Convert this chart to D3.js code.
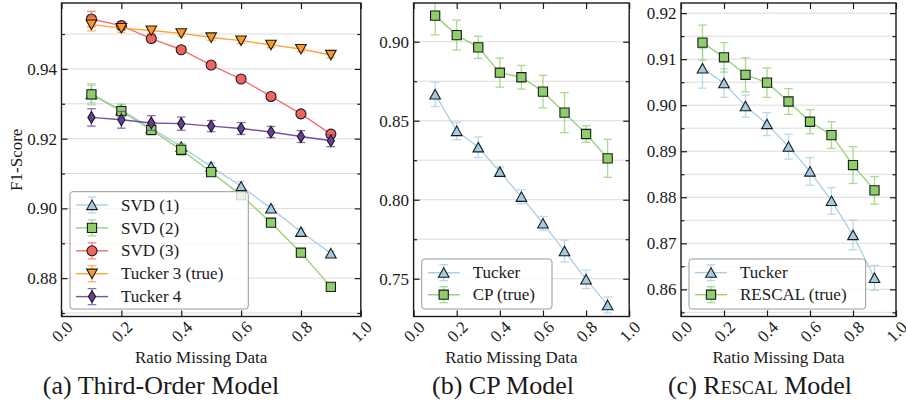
<!DOCTYPE html>
<html><head><meta charset="utf-8">
<script src="https://cdn.jsdelivr.net/npm/d3@7/dist/d3.min.js"></script>
<style>
body{margin:0;background:#fff}
svg{display:block}
svg text{font-family:"Liberation Serif","Times New Roman",serif;fill:#1a1a1a}
</style>
</head><body>
<svg id="chart" width="906" height="405"></svg>
<script>
// ---------------- DATA ----------------
const ratios = [0.1, 0.2, 0.3, 0.4, 0.5, 0.6, 0.7, 0.8, 0.9];
const xTickValues = [0.0, 0.2, 0.4, 0.6, 0.8, 1.0];

// Panel (a) Third-Order Model
const aLabels = ["SVD (1)", "SVD (2)", "SVD (3)", "Tucker 3 (true)", "Tucker 4"];
const aSvd1 = [0.9328, 0.9282, 0.9230, 0.9177, 0.9120, 0.9063, 0.9000, 0.8933, 0.8871];
const aSvd1Err = [0.0025, 0.0018, 0.0012, 0.0010, 0.0010, 0.0014, 0.0008, 0.0008, 0.0006];
const aSvd2 = [0.9327, 0.9279, 0.9225, 0.9168, 0.9104, 0.9038, 0.8959, 0.8873, 0.8775];
const aSvd2Err = [0.0030, 0.0018, 0.0015, 0.0016, 0.0012, 0.0012, 0.0008, 0.0008, 0.0010];
const aSvd3 = [0.9543, 0.9524, 0.9487, 0.9455, 0.9411, 0.9371, 0.9321, 0.9271, 0.9213];
const aSvd3Err = [0.0022, 0.0012, 0.0010, 0.0008, 0.0008, 0.0008, 0.0008, 0.0008, 0.0010];
const aTucker3 = [0.9527, 0.9517, 0.9510, 0.9502, 0.9490, 0.9481, 0.9469, 0.9457, 0.9440];
const aTucker3Err = [0.0018, 0.0012, 0.0008, 0.0008, 0.0008, 0.0008, 0.0008, 0.0008, 0.0008];
const aTucker4 = [0.9261, 0.9254, 0.9245, 0.9243, 0.9236, 0.9229, 0.9219, 0.9206, 0.9194];
const aTucker4Err = [0.0025, 0.0024, 0.0021, 0.0019, 0.0016, 0.0017, 0.0016, 0.0017, 0.0017];
const aYTicks = [0.88, 0.90, 0.92, 0.94];
const aYMinor = [0.87, 0.89, 0.91, 0.93, 0.95];
const aYDomain = [0.8690, 0.9589];

// Panel (b) CP Model
const bLabels = ["Tucker", "CP (true)"];
const bTucker = [0.8667, 0.8435, 0.8332, 0.8177, 0.8019, 0.7850, 0.7675, 0.7496, 0.7333];
const bTuckerErr = [0.0077, 0.0055, 0.0065, 0.0030, 0.0044, 0.0044, 0.0069, 0.0058, 0.0050];
const bCP = [0.9165, 0.9042, 0.8964, 0.8804, 0.8775, 0.8684, 0.8551, 0.8416, 0.8262];
const bCPErr = [0.0122, 0.0095, 0.0070, 0.0092, 0.0075, 0.0103, 0.0127, 0.0052, 0.0120];
const bYTicks = [0.75, 0.80, 0.85, 0.90];
const bYMinor = [0.725, 0.775, 0.825, 0.875, 0.925];
const bYDomain = [0.7261, 0.9245];

// Panel (c) Rescal Model
const cLabels = ["Tucker", "RESCAL (true)"];
const cTucker = [0.9080, 0.9048, 0.8998, 0.8959, 0.8910, 0.8856, 0.8792, 0.8718, 0.8625];
const cTuckerErr = [0.0043, 0.0031, 0.0024, 0.0025, 0.0027, 0.0030, 0.0029, 0.0032, 0.0027];
const cRescal = [0.9136, 0.9104, 0.9066, 0.9049, 0.9008, 0.8964, 0.8935, 0.8870, 0.8815];
const cRescalErr = [0.0038, 0.0032, 0.0037, 0.0032, 0.0028, 0.0026, 0.0029, 0.0040, 0.0030];
const cYTicks = [0.86, 0.87, 0.88, 0.89, 0.90, 0.91, 0.92];
const cYMinor = [0.855, 0.865, 0.875, 0.885, 0.895, 0.905, 0.915];
const cYDomain = [0.8541, 0.9222];

const xLabel = "Ratio Missing Data";
const yLabel = "F1-Score";

// ---------------- STYLE ----------------
const COL = {blue:"#a3cce3", green:"#8fcf6b", red:"#ef6461", orange:"#fd9a24", purple:"#6a3d9a"};
const TOP = 3, BOTTOM = 316.5;
const FS = 17, CAP_FS = 26;

const svg = d3.select("#chart");

function markerPath(type){
  switch(type){
    case "tri": return "M0,-4.9L5.3,4.6L-5.3,4.6Z";
    case "trid": return "M0,4.9L5.3,-4.6L-5.3,-4.6Z";
    case "sq": return "M-4.6,-4.6H4.6V4.6H-4.6Z";
    case "circ": return "M5,0A5,5 0 1,1 -5,0A5,5 0 1,1 5,0Z";
    case "dia": return "M0,-5.8L3.6,0L0,5.8L-3.6,0Z";
  }
}

function drawPanel(p, idx){
  const x = d3.scaleLinear().domain([0,1]).range([p.x0, p.x1]);
  const y = d3.scaleLinear().domain(p.yDomain).range([BOTTOM, TOP]);
  const g = svg.append("g");
  const clipId = "clip"+idx;
  g.append("clipPath").attr("id", clipId).append("rect")
    .attr("x", p.x0).attr("y", TOP).attr("width", p.x1-p.x0).attr("height", BOTTOM-TOP);

  const inDom = v => v >= p.yDomain[0] && v <= p.yDomain[1];

  // grid
  g.append("g").selectAll("line").data(p.yTicks.concat(p.yMinor).filter(inDom))
    .join("line").attr("x1", p.x0).attr("x2", p.x1)
    .attr("y1", d=>y(d)).attr("y2", d=>y(d))
    .attr("stroke", "#dcdcdc").attr("stroke-width", 1);

  // series
  const plot = g.append("g").attr("clip-path", `url(#${clipId})`);
  p.series.forEach(s=>{
    const sg = plot.append("g");
    const pts = ratios.map((r,i)=>({x:r, y:s.values[i], e:s.errors[i]}));
    const eg = sg.append("g").attr("stroke", s.color).attr("stroke-width", 1.3).attr("opacity", 0.75);
    pts.forEach(d=>{
      eg.append("line").attr("x1", x(d.x)).attr("x2", x(d.x)).attr("y1", y(d.y-d.e)).attr("y2", y(d.y+d.e));
      eg.append("line").attr("x1", x(d.x)-4.3).attr("x2", x(d.x)+4.3).attr("y1", y(d.y-d.e)).attr("y2", y(d.y-d.e));
      eg.append("line").attr("x1", x(d.x)-4.3).attr("x2", x(d.x)+4.3).attr("y1", y(d.y+d.e)).attr("y2", y(d.y+d.e));
    });
    sg.append("path").datum(pts)
      .attr("d", d3.line().x(d=>x(d.x)).y(d=>y(d.y)))
      .attr("fill","none").attr("stroke", s.color).attr("stroke-width", 1.4).attr("opacity", 0.9);
    sg.append("g").selectAll("path").data(pts).join("path")
      .attr("d", markerPath(s.marker))
      .attr("transform", d=>`translate(${x(d.x)},${y(d.y)})`)
      .attr("fill", s.color).attr("stroke", "#1a1a1a").attr("stroke-width", 1.1);
  });

  // axes (ticks inward on all four sides)
  const ax = g.append("g");
  const bottomAxis = ax.append("g").attr("transform", `translate(0,${BOTTOM})`)
    .call(d3.axisBottom(x).tickValues(xTickValues).tickSize(-6).tickFormat(d3.format(".1f")));
  bottomAxis.selectAll("text")
    .attr("y", null).attr("dy", "0.35em")
    .attr("text-anchor", "middle")
    .attr("transform", "translate(0,15) rotate(-45)");
  ax.append("g").attr("transform", `translate(0,${TOP})`)
    .call(d3.axisTop(x).tickValues(xTickValues).tickSize(-6).tickFormat(""));
  ax.append("g").attr("transform", `translate(${p.x0},0)`)
    .call(d3.axisLeft(y).tickValues(p.yTicks).tickSize(-6).tickPadding(4.5).tickFormat(d3.format(".2f")));
  ax.append("g").attr("transform", `translate(${p.x0},0)`)
    .call(d3.axisLeft(y).tickValues(p.yMinor.filter(inDom)).tickSize(-3.5).tickFormat(""));
  ax.append("g").attr("transform", `translate(${p.x1},0)`)
    .call(d3.axisRight(y).tickValues(p.yTicks).tickSize(-6).tickFormat(""));
  ax.append("g").attr("transform", `translate(${p.x1},0)`)
    .call(d3.axisRight(y).tickValues(p.yMinor.filter(inDom)).tickSize(-3.5).tickFormat(""));
  ax.selectAll(".domain").remove();
  ax.selectAll("g").attr("font-family", null);
  ax.selectAll(".tick line").attr("stroke", "#1a1a1a").attr("stroke-width", 1.2);
  ax.selectAll("text").attr("font-size", FS).attr("fill", "#1a1a1a");

  // frame
  g.append("rect").attr("x", p.x0).attr("y", TOP).attr("width", p.x1-p.x0).attr("height", BOTTOM-TOP)
    .attr("fill", "none").attr("stroke", "#1a1a1a").attr("stroke-width", 1.4);

  // x label
  g.append("text").attr("x", (p.x0+p.x1)/2 - 10).attr("y", 363).attr("text-anchor", "middle")
    .attr("font-size", FS).text(xLabel);

  // legend
  const L = p.legend;
  const lg = g.append("g");
  lg.append("rect").attr("x", L.x).attr("y", L.y).attr("width", L.w).attr("height", L.h)
    .attr("rx", 3).attr("fill", "#fff").attr("fill-opacity", 0.8)
    .attr("stroke", "#999").attr("stroke-width", 1);
  p.series.forEach((s,i)=>{
    const ry = L.y + L.first + i*L.step;
    const mx = L.x + 22;
    lg.append("line").attr("x1", L.x+6).attr("x2", L.x+38).attr("y1", ry).attr("y2", ry)
      .attr("stroke", s.color).attr("stroke-width", 1.4).attr("opacity", 0.9);
    const eg = lg.append("g").attr("stroke", s.color).attr("stroke-width", 1.3).attr("opacity", 0.75);
    eg.append("line").attr("x1", mx).attr("x2", mx).attr("y1", ry-8).attr("y2", ry+8);
    eg.append("line").attr("x1", mx-4.3).attr("x2", mx+4.3).attr("y1", ry-8).attr("y2", ry-8);
    eg.append("line").attr("x1", mx-4.3).attr("x2", mx+4.3).attr("y1", ry+8).attr("y2", ry+8);
    lg.append("path").attr("d", markerPath(s.marker)).attr("transform", `translate(${mx},${ry})`)
      .attr("fill", s.color).attr("stroke", "#1a1a1a").attr("stroke-width", 1.1);
    lg.append("text").attr("x", L.x+51).attr("y", ry).attr("dy", "0.33em")
      .attr("font-size", FS).text(s.label);
  });
}

const panels = [
  {x0:61.5, x1:360.8, yDomain:aYDomain, yTicks:aYTicks, yMinor:aYMinor,
   legend:{x:70, y:191.7, w:178.3, h:117.3, first:13.3, step:22.9},
   series:[
     {label:aLabels[0], values:aSvd1, errors:aSvd1Err, color:COL.blue, marker:"tri"},
     {label:aLabels[1], values:aSvd2, errors:aSvd2Err, color:COL.green, marker:"sq"},
     {label:aLabels[2], values:aSvd3, errors:aSvd3Err, color:COL.red, marker:"circ"},
     {label:aLabels[3], values:aTucker3, errors:aTucker3Err, color:COL.orange, marker:"trid"},
     {label:aLabels[4], values:aTucker4, errors:aTucker4Err, color:COL.purple, marker:"dia"}
   ]},
  {x0:413.6, x1:629.2, yDomain:bYDomain, yTicks:bYTicks, yMinor:bYMinor,
   legend:{x:421.7, y:259, w:130.3, h:50, first:13.7, step:22},
   series:[
     {label:bLabels[0], values:bTucker, errors:bTuckerErr, color:COL.blue, marker:"tri"},
     {label:bLabels[1], values:bCP, errors:bCPErr, color:COL.green, marker:"sq"}
   ]},
  {x0:681, x1:896, yDomain:cYDomain, yTicks:cYTicks, yMinor:cYMinor,
   legend:{x:689, y:259, w:176.7, h:50, first:13.7, step:22},
   series:[
     {label:cLabels[0], values:cTucker, errors:cTuckerErr, color:COL.blue, marker:"tri"},
     {label:cLabels[1], values:cRescal, errors:cRescalErr, color:COL.green, marker:"sq"}
   ]}
];
panels.forEach(drawPanel);

// y label (panel a only)
svg.append("text").attr("transform", `translate(21.5,${(TOP+BOTTOM)/2}) rotate(-90)`)
  .attr("text-anchor", "middle").attr("font-size", FS).text(yLabel);

// captions
const captions = [
  {cx:161, parts:[["(a) Third-Order Model", null]]},
  {cx:503, parts:[["(b) CP Model", null]]},
  {cx:760, parts:[["(c) ", null], ["R", null], ["escal", "small-caps"], [" Model", null]]}
];
captions.forEach(c=>{
  const t = svg.append("text").attr("x", c.cx).attr("y", 394).attr("text-anchor", "middle").attr("font-size", CAP_FS);
  c.parts.forEach(([s, v])=>{
    const ts = t.append("tspan").text(s);
    if (v) ts.style("font-variant", v);
  });
});
</script>
</body></html>
